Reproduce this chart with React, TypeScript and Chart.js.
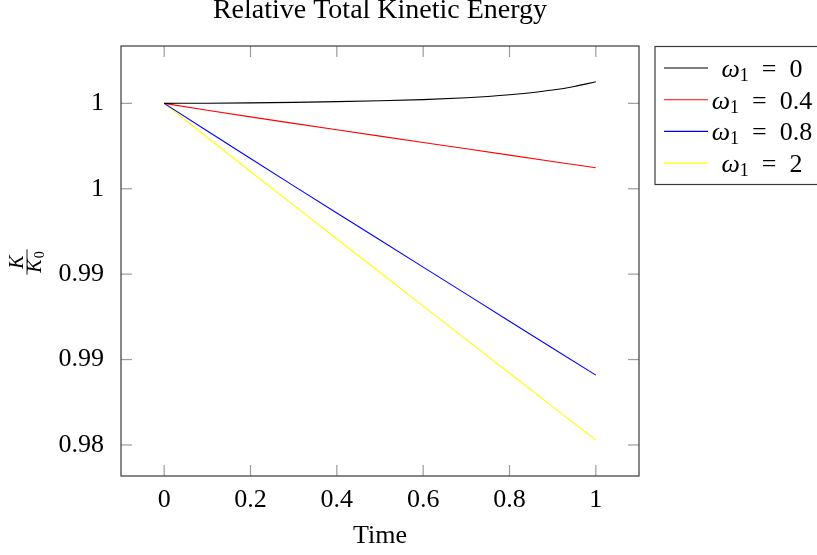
import React, { useEffect, useRef } from "react";
import { Chart, registerables } from "chart.js";

Chart.register(...registerables);

// ---- data ----
const timePoints = [0, 0.1, 0.2, 0.3, 0.4, 0.5, 0.6, 0.7, 0.8, 0.9, 1.0];
const timePointsFine = [0, 0.1, 0.2, 0.3, 0.4, 0.5, 0.6, 0.7, 0.75, 0.8, 0.85, 0.9, 0.95, 1.0];
const omegaValues = ["0", "0.4", "0.8", "2"];
const kOmega0 = [1.0, 1.00001, 1.00003, 1.00006, 1.0001, 1.00015, 1.00022, 1.00033, 1.000405, 1.0005, 1.000623, 1.00078, 1.000991, 1.00126];
const kOmega04 = [1.0, 0.9996, 0.99921, 0.99883, 0.99845, 0.99808, 0.99771, 0.99734, 0.99697, 0.9966, 0.99623];
const kOmega08 = [1.0, 0.99838, 0.99677, 0.99517, 0.99358, 0.992, 0.99041, 0.98883, 0.98724, 0.98566, 0.98409];
const kOmega2 = [1.0, 0.998, 0.99601, 0.99404, 0.99206, 0.9901, 0.98813, 0.98617, 0.9842, 0.98224, 0.98028];
const seriesValues = [kOmega0, kOmega04, kOmega08, kOmega2];
const seriesTimes = [timePointsFine, timePoints, timePoints, timePoints];
const seriesColors = ["#000000", "#ff0000", "#0000ff", "#ffff00"];

const xTickValues = [0, 0.2, 0.4, 0.6, 0.8, 1];
const xTickLabels = ["0", "0.2", "0.4", "0.6", "0.8", "1"];
const yTickValues = [0.98, 0.985, 0.99, 0.995, 1.0];
const yTickLabels = ["0.98", "0.99", "0.99", "1", "1"];

const titleText = "Relative Total Kinetic Energy";
const xTitleText = "Time";

const SERIF = "'Liberation Serif', 'Times New Roman', serif";

// pgfplots-like enlargement of limits (10%)
const allY = seriesValues.flat();
const yLo = Math.min(...allY);
const yHi = Math.max(...allY);
const yPad = (yHi - yLo) * 0.1;
const xLo = Math.min(...timePoints);
const xHi = Math.max(...timePoints);
const xPad = (xHi - xLo) * 0.1;

const decorPlugin = {
  id: "decor",
  afterDatasetsDraw(chart: any) {
    const ctx = chart.ctx;
    const a = chart.chartArea;
    const xs = chart.scales.x;
    const ys = chart.scales.y;
    const TL = 11;
    ctx.save();
    ctx.strokeStyle = "#9c9c9c";
    ctx.lineWidth = 1.2;
    const seg = (x1: number, y1: number, x2: number, y2: number) => {
      ctx.beginPath();
      ctx.moveTo(x1, y1);
      ctx.lineTo(x2, y2);
      ctx.stroke();
    };
    xTickValues.forEach((v) => {
      const px = xs.getPixelForValue(v);
      seg(px, a.bottom, px, a.bottom - TL);
      seg(px, a.top, px, a.top + TL);
    });
    yTickValues.forEach((v) => {
      const py = ys.getPixelForValue(v);
      seg(a.left, py, a.left + TL, py);
      seg(a.right, py, a.right - TL, py);
    });
    ctx.strokeStyle = "#3a3a3a";
    ctx.lineWidth = 1.2;
    ctx.strokeRect(a.left, a.top, a.right - a.left, a.bottom - a.top);
    ctx.restore();
  },
  afterDraw(chart: any) {
    const ctx = chart.ctx;
    const a = chart.chartArea;
    ctx.save();

    // y-axis label: fraction K / K_0, rotated
    const cyMid = (a.top + a.bottom) / 2 + 1;
    ctx.translate(27, cyMid);
    ctx.rotate(-Math.PI / 2);
    ctx.fillStyle = "#000";
    ctx.textBaseline = "alphabetic";
    ctx.textAlign = "left";
    ctx.font = `italic 20px ${SERIF}`;
    const kW = ctx.measureText("K").width;
    ctx.font = `14px ${SERIF}`;
    const zW = ctx.measureText("0").width;
    ctx.font = `italic 20px ${SERIF}`;
    ctx.fillText("K", -kW / 2, -4);
    const denW = kW + zW + 1;
    ctx.fillText("K", -denW / 2, 14);
    ctx.font = `14px ${SERIF}`;
    ctx.fillText("0", -denW / 2 + kW + 1, 17);
    ctx.strokeStyle = "#000";
    ctx.lineWidth = 0.9;
    ctx.beginPath();
    ctx.moveTo(-denW / 2 - 2, 0);
    ctx.lineTo(denW / 2 + 2, 0);
    ctx.stroke();
    ctx.setTransform(1, 0, 0, 1, 0, 0);

    // legend box
    const lx = a.right + 16;
    const ly = a.top + 0.5;
    ctx.strokeStyle = "#3a3a3a";
    ctx.lineWidth = 1.2;
    ctx.strokeRect(lx, ly, 300, 138);
    const centerX = a.right + 123;
    chart.data.datasets.forEach((ds: any, i: number) => {
      const cy = a.top + 22 + i * 31.7;
      ctx.strokeStyle = ds.borderColor;
      ctx.lineWidth = 1.1;
      ctx.beginPath();
      ctx.moveTo(lx + 9, cy);
      ctx.lineTo(lx + 53, cy);
      ctx.stroke();
      const pieces = [
        { t: "\u03c9", f: `italic 26px ${SERIF}`, dy: 0 },
        { t: "1", f: `18px ${SERIF}`, dy: 4 },
        { t: "  =  " + omegaValues[i], f: `26px ${SERIF}`, dy: 0 },
      ];
      let w = 0;
      pieces.forEach((p) => {
        ctx.font = p.f;
        w += ctx.measureText(p.t).width;
      });
      let x = centerX - w / 2;
      ctx.fillStyle = "#000";
      ctx.textAlign = "left";
      ctx.textBaseline = "alphabetic";
      pieces.forEach((p) => {
        ctx.font = p.f;
        ctx.fillText(p.t, x, cy + 9 + p.dy);
        x += ctx.measureText(p.t).width;
      });
    });
    ctx.restore();
  },
};

export default function App() {
  const canvasRef = useRef<HTMLCanvasElement | null>(null);

  useEffect(() => {
    if (!canvasRef.current) return;
    const chart = new Chart(canvasRef.current, {
      type: "line",
      data: {
        datasets: seriesValues.map((vals, i) => ({
          label: "\u03c9\u2081 = " + omegaValues[i],
          data: vals.map((v, j) => ({ x: seriesTimes[i][j], y: v })),
          borderColor: seriesColors[i],
          backgroundColor: seriesColors[i],
          borderWidth: 1.1,
          pointRadius: 0,
          fill: false,
          tension: 0,
          cubicInterpolationMode: i === 0 ? "monotone" : "default",
        })),
      },
      options: {
        animation: false,
        responsive: true,
        maintainAspectRatio: false,
        layout: { padding: { left: 0, right: 178, top: 0, bottom: 0 } },
        plugins: {
          legend: { display: false },
          tooltip: { enabled: false },
          title: {
            display: true,
            text: titleText,
            fullSize: false,
            color: "#000",
            font: { family: SERIF, size: 28, weight: "normal", lineHeight: 0.6 },
            padding: { top: 2, bottom: 27.2 },
          },
        },
        scales: {
          x: {
            type: "linear",
            min: xLo - xPad,
            max: xHi + xPad,
            grid: { display: false },
            border: { display: false },
            afterBuildTicks: (scale: any) => {
              scale.ticks = xTickValues.map((v) => ({ value: v }));
            },
            afterFit: (scale: any) => {
              scale.height = 79;
            },
            ticks: {
              padding: 1,
              color: "#000",
              maxRotation: 0,
              autoSkip: false,
              font: { family: SERIF, size: 26, lineHeight: 1.2 },
              callback: (v: any) => {
                const idx = xTickValues.findIndex((t) => Math.abs(t - Number(v)) < 1e-9);
                return idx >= 0 ? xTickLabels[idx] : "";
              },
            },
            title: {
              display: true,
              text: xTitleText,
              color: "#000",
              font: { family: SERIF, size: 26, lineHeight: 1.2 },
              padding: { top: 0, bottom: 3 },
            },
          },
          y: {
            type: "linear",
            min: yLo - yPad,
            max: yHi + yPad,
            grid: { display: false },
            border: { display: false },
            afterBuildTicks: (scale: any) => {
              scale.ticks = yTickValues.map((v) => ({ value: v }));
            },
            afterFit: (scale: any) => {
              scale.width = 121;
            },
            ticks: {
              padding: 9,
              color: "#000",
              autoSkip: false,
              font: { family: SERIF, size: 26, lineHeight: 1.2 },
              callback: (v: any) => {
                const idx = yTickValues.findIndex((t) => Math.abs(t - Number(v)) < 1e-9);
                return idx >= 0 ? yTickLabels[idx] : "";
              },
            },
          },
        },
      },
      plugins: [decorPlugin],
    } as any);
    return () => chart.destroy();
  }, []);

  return (
    <div style={{ position: "absolute", left: 0, top: 0, width: 817, height: 555, background: "#fff" }}>
      <canvas ref={canvasRef} />
    </div>
  );
}
